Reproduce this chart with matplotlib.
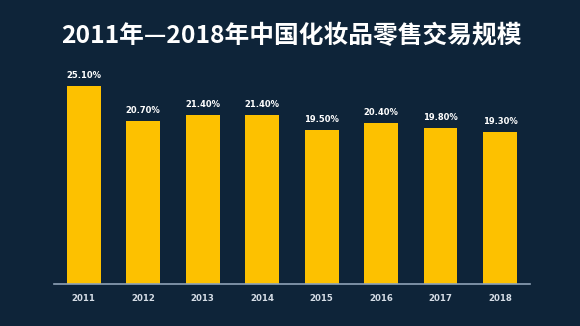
import matplotlib
matplotlib.use('Agg')
import matplotlib.pyplot as plt

plt.rcParams['font.family'] = ['Noto Sans CJK SC', 'DejaVu Sans']

years = ['2011', '2012', '2013', '2014', '2015', '2016', '2017', '2018']
growth = [25.1, 20.7, 21.4, 21.4, 19.5, 20.4, 19.8, 19.3]
title = '2011年—2018年中国化妆品零售交易规模'

bg = '#0e2439'
bar_color = '#fdc100'

fig = plt.figure(figsize=(5.8, 3.26), dpi=100, facecolor=bg)
ax = fig.add_axes([0.0924, 0.1276, 0.821, 0.688], facecolor=bg)

x = list(range(len(years)))
bars = ax.bar(x, growth, width=0.57, color=bar_color, zorder=2)

for xi, v in zip(x, growth):
    ax.text(xi, v + 0.75, '%.2f%%' % v, ha='center', va='bottom',
            color='white', fontsize=6.0, fontweight='bold',
            family=['DejaVu Sans'])

ax.set_xlim(-0.505, 7.5)
ax.set_ylim(0, 28.4)
ax.set_xticks(x)
ax.set_xticklabels(years, family=['DejaVu Sans'], fontsize=6.2,
                   color='#d5dde6', fontweight='bold')
ax.tick_params(axis='x', length=0, pad=7)
ax.set_yticks([])

for side in ['top', 'right', 'left']:
    ax.spines[side].set_visible(False)
ax.spines['bottom'].set_color('#8ea2b6')
ax.spines['bottom'].set_linewidth(1.2)

fig.text(0.503, 0.89, title, ha='center', va='center', color='white',
         fontsize=17.8, fontweight='bold')

fig.savefig('out.png', dpi=100, facecolor=bg)
